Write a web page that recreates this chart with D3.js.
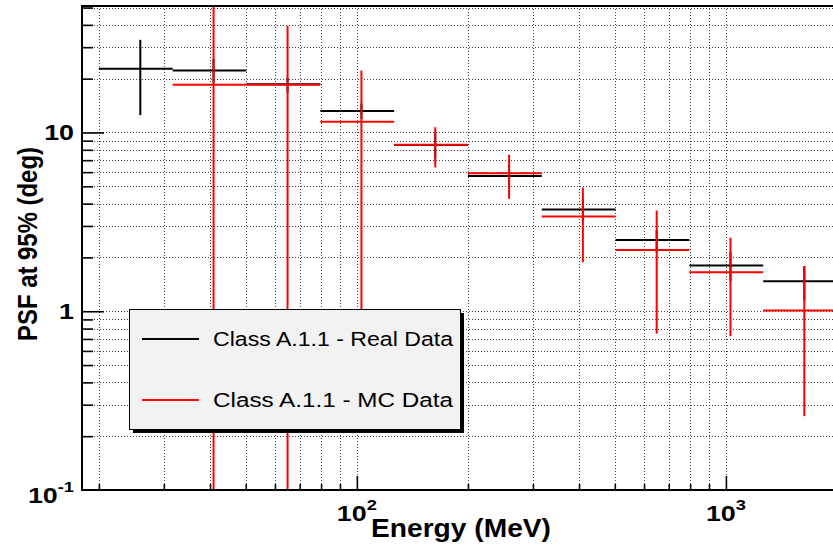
<!DOCTYPE html>
<html><head><meta charset="utf-8">
<script src="https://cdn.jsdelivr.net/npm/d3@7"></script>
<style>body{margin:0;background:#fff}svg{display:block}</style>
</head><body>
<script>
// ---- data ----
const binLow    = [20, 31.7, 50.2, 79.6, 126.2, 200, 317, 502.4, 796.2, 1262];
const binHigh   = [31.7, 50.2, 79.6, 126.2, 200, 317, 502.4, 796.2, 1262, 2000];
const binCenter = [25.9, 40.9, 64.9, 102.9, 163.1, 258.5, 409.7, 649.3, 1029, 1631];

const realPSF = [22.7, 22.2, 18.6, 13.2, 8.5, 5.70, 3.71, 2.50, 1.80, 1.47];
const realLo  = [12.5, 19.0, 16.7, 11.9, 7.15, 4.92, 3.18, 2.14, 1.47, 1.15];
const realHi  = [33.0, 25.8, 20.2, 14.5, 9.9, 6.53, 4.24, 2.84, 2.14, 1.79];

const mcPSF = [null, 18.5, 18.5, 11.5, 8.53, 5.91, 3.39, 2.20, 1.65, 1.01];
const mcLo  = [null, 0.05, 0.05, 0.5, 6.37, 4.26, 1.88, 0.75, 0.725, 0.259];
const mcHi  = [null, 80, 39.5, 22.2, 10.7, 7.5, 4.92, 3.66, 2.58, 1.79];

const xMajorTicks = [100, 1000];
const xMinorTicks = [20,30,40,50,60,70,80,90,200,300,400,500,600,700,800,900,2000];
const yMajorTicks = [0.1, 1, 10];
const yMinorTicks = [0.2,0.3,0.4,0.5,0.6,0.7,0.8,0.9,2,3,4,5,6,7,8,9,20,30,40,50];
const xTickBase = ["10", "10"];
const xTickSup  = ["2", "3"];
const yTickBase = ["10", "1", "10"];
const yTickSup  = ["-1", "", ""];

const seriesNames  = ["Class A.1.1 - Real Data", "Class A.1.1 - MC Data"];
const seriesColors = ["#000000", "#ff0000"];
const xTitle = "Energy (MeV)";
const yTitle = "PSF at 95% (deg)";

// ---- drawing ----
const W = 833, H = 546;
const L = 82, R = 837, T = 6, B = 490;
const FONT = "'Liberation Sans', Arial, Helvetica, sans-serif";

const svg = d3.select("body").append("svg").attr("width", W).attr("height", H);
svg.append("rect").attr("width", W).attr("height", H).attr("fill", "#fff");

const x = d3.scaleLog().domain([18, 2000]).range([L, R]);
const y = d3.scaleLog().domain([0.1, 51]).range([B, T]);

svg.append("defs").append("clipPath").attr("id", "plot")
  .append("rect").attr("x", L).attr("y", T).attr("width", R - L).attr("height", B - T);

// grid
const grid = svg.append("g").attr("stroke", "#444").attr("stroke-width", 1)
  .attr("stroke-dasharray", "1,2").attr("shape-rendering", "crispEdges");
const xGrid = xMinorTicks.concat(xMajorTicks);
grid.selectAll("line.vx").data(xGrid).join("line")
  .attr("x1", d => Math.round(x(d)) + 0.5).attr("x2", d => Math.round(x(d)) + 0.5)
  .attr("y1", T).attr("y2", B);
const yGrid = yMinorTicks.concat([1, 10]);
grid.selectAll("line.hy").data(yGrid).join("line")
  .attr("y1", d => Math.round(y(d)) + 0.5).attr("y2", d => Math.round(y(d)) + 0.5)
  .attr("x1", L).attr("x2", R);

// data
const dataG = svg.append("g").attr("clip-path", "url(#plot)");
function drawSeries(vals, lo, hi, color) {
  const idx = d3.range(vals.length).filter(i => vals[i] != null);
  const g = dataG.append("g").attr("stroke", color).attr("stroke-width", 2).attr("fill", "none");
  g.selectAll("line.h").data(idx).join("line")
    .attr("x1", i => x(binLow[i])).attr("x2", i => x(binHigh[i]))
    .attr("y1", i => y(vals[i])).attr("y2", i => y(vals[i]));
  g.selectAll("line.v").data(idx).join("line")
    .attr("x1", i => x(binCenter[i])).attr("x2", i => x(binCenter[i]))
    .attr("y1", i => y(lo[i])).attr("y2", i => y(hi[i]));
}
drawSeries(realPSF, realLo, realHi, seriesColors[0]);
drawSeries(mcPSF, mcLo, mcHi, seriesColors[1]);

// ticks (inward)
function styleAxis(g, w) {
  g.select(".domain").remove();
  g.selectAll(".tick line").attr("stroke", "#000").attr("stroke-width", w);
  g.selectAll(".tick text").remove();
}
svg.append("g").attr("transform", `translate(${L},0)`)
  .call(d3.axisRight(y).tickValues(yMinorTicks).tickSize(11).tickFormat(""))
  .call(g => styleAxis(g, 1.6));
svg.append("g").attr("transform", `translate(${L},0)`)
  .call(d3.axisRight(y).tickValues([1, 10]).tickSize(22).tickFormat(""))
  .call(g => styleAxis(g, 1.6));
svg.append("g").attr("transform", `translate(0,${B})`)
  .call(d3.axisTop(x).tickValues(xMinorTicks).tickSize(6).tickFormat(""))
  .call(g => styleAxis(g, 1.6));
svg.append("g").attr("transform", `translate(0,${B})`)
  .call(d3.axisTop(x).tickValues(xMajorTicks).tickSize(14).tickFormat(""))
  .call(g => styleAxis(g, 1.6));

// frame
const frame = svg.append("g").attr("stroke", "#000").attr("stroke-width", 2).attr("fill", "none");
frame.append("line").attr("x1", L).attr("x2", L).attr("y1", T - 1).attr("y2", B + 1);
frame.append("line").attr("x1", L - 1).attr("x2", R).attr("y1", B).attr("y2", B);
frame.append("line").attr("x1", L - 1).attr("x2", R).attr("y1", T).attr("y2", T);

// tick labels
function label(px, py, base, sup, anchor) {
  const g = svg.append("g").attr("transform", `translate(${px},${py}) scale(1.22,1)`);
  const t = g.append("text").attr("text-anchor", anchor).attr("font-family", FONT)
    .attr("font-weight", "bold").attr("font-size", 22).attr("fill", "#000");
  t.append("tspan").text(base);
  if (sup) t.append("tspan").attr("font-size", 15).attr("dy", -11).text(sup);
}
yMajorTicks.forEach((v, i) => {
  const off = v === y.domain()[0] ? 13 : 8;
  label(74, y(v) + off, yTickBase[i], yTickSup[i], "end");
});
xMajorTicks.forEach((v, i) => {
  label(x(v), B + 31, xTickBase[i], xTickSup[i], "middle");
});

// axis titles
svg.append("text").attr("x", 371).attr("y", 537)
  .attr("font-family", FONT).attr("font-weight", "bold").attr("font-size", 26)
  .attr("textLength", 180).attr("lengthAdjust", "spacingAndGlyphs").text(xTitle);
svg.append("text").attr("transform", "translate(37,244) rotate(-90)")
  .attr("text-anchor", "middle")
  .attr("font-family", FONT).attr("font-weight", "bold").attr("font-size", 28)
  .attr("textLength", 194).attr("lengthAdjust", "spacingAndGlyphs").text(yTitle);

// legend
const lg = svg.append("g");
lg.append("rect").attr("x", 133).attr("y", 313).attr("width", 331).attr("height", 120).attr("fill", "#000");
lg.append("rect").attr("x", 129.5).attr("y", 309.5).attr("width", 331).attr("height", 120)
  .attr("fill", "#f2f2f2").attr("stroke", "#000").attr("stroke-width", 1);
seriesNames.forEach((name, i) => {
  const cy = 339 + i * 61;
  lg.append("line").attr("x1", 142).attr("x2", 199).attr("y1", cy).attr("y2", cy)
    .attr("stroke", seriesColors[i]).attr("stroke-width", 2);
  lg.append("text").attr("x", 213).attr("y", cy + 7)
    .attr("font-family", FONT).attr("font-size", 20).attr("fill", "#000")
    .attr("textLength", 240).attr("lengthAdjust", "spacingAndGlyphs").text(name);
});
</script>
</body></html>
